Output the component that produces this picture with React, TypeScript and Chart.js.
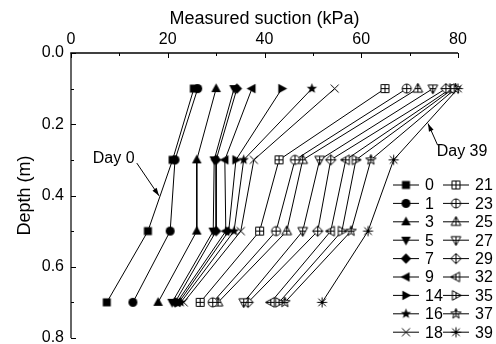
import React, { useEffect, useRef } from 'react';
import { Chart, registerables } from 'chart.js';

Chart.register(...registerables);

// ---- data ----
const DEPTHS = [0.1, 0.3, 0.5, 0.7];
const DAYS = [0, 1, 3, 5, 7, 9, 14, 16, 18, 21, 23, 25, 27, 29, 32, 35, 37, 39];
const day0 = [25.4, 21.0, 15.9, 7.4];
const day1 = [26.2, 21.5, 20.5, 12.8];
const day3 = [30.0, 26.0, 26.0, 18.0];
const day5 = [33.7, 29.6, 29.4, 20.9];
const day7 = [34.3, 30.0, 30.0, 21.5];
const day9 = [37.4, 31.8, 32.0, 21.9];
const day14 = [43.6, 34.1, 32.6, 22.3];
const day16 = [49.8, 35.7, 33.7, 22.7];
const day18 = [54.5, 37.8, 35.1, 23.3];
const day21 = [64.9, 43.0, 39.0, 26.7];
const day23 = [69.4, 46.3, 42.4, 29.3];
const day25 = [71.7, 47.9, 44.6, 30.4];
const day27 = [74.8, 51.4, 47.9, 35.7];
const day29 = [77.5, 53.7, 51.0, 36.6];
const day32 = [78.5, 56.8, 53.7, 41.3];
const day35 = [79.0, 58.9, 56.0, 43.0];
const day37 = [79.5, 62.0, 57.9, 44.2];
const day39 = [80.0, 66.7, 61.4, 51.9];
const SUCTIONS = [day0, day1, day3, day5, day7, day9, day14, day16, day18, day21, day23, day25, day27, day29, day32, day35, day37, day39];

const X_MINOR = [10, 30, 50, 70];
const Y_MINOR = [0.1, 0.3, 0.5, 0.7];

// annotation anchors in data units
const DAY0_TEXT = { x: 4.5, y: 0.296, text: 'Day 0' };
const DAY0_ARROW = { x1: 13.6, y1: 0.309, x2: 18.2, y2: 0.401 };
const DAY39_TEXT = { x: 75.6, y: 0.276, text: 'Day 39' };
const DAY39_ARROW = { x1: 75.8, y1: 0.259, x2: 73.8, y2: 0.198 };

const FONT = '"Liberation Sans", Arial, Helvetica, sans-serif';

type Shape = 'square' | 'circle' | 'tri' | 'diamond' | 'star' | 'cross' | 'asterisk';
type MarkerSpec = { shape: Shape; rot?: number; open?: boolean };
const MARKERS: MarkerSpec[] = [
  { shape: 'square' }, { shape: 'circle' }, { shape: 'tri' }, { shape: 'tri', rot: 180 },
  { shape: 'diamond' }, { shape: 'tri', rot: -90 }, { shape: 'tri', rot: 90 }, { shape: 'star' }, { shape: 'cross' },
  { shape: 'square', open: true }, { shape: 'circle', open: true }, { shape: 'tri', open: true },
  { shape: 'tri', rot: 180, open: true }, { shape: 'diamond', open: true }, { shape: 'tri', rot: -90, open: true },
  { shape: 'tri', rot: 90, open: true }, { shape: 'star', open: true }, { shape: 'asterisk' },
];

function shapePath(ctx: CanvasRenderingContext2D, shape: Shape) {
  ctx.beginPath();
  switch (shape) {
    case 'square': ctx.rect(-4, -4, 8, 8); break;
    case 'circle': ctx.arc(0, 0, 4.5, 0, Math.PI * 2); break;
    case 'tri': ctx.moveTo(0, -5.3); ctx.lineTo(4.8, 3.6); ctx.lineTo(-4.8, 3.6); ctx.closePath(); break;
    case 'diamond': ctx.moveTo(0, -5.2); ctx.lineTo(5.2, 0); ctx.lineTo(0, 5.2); ctx.lineTo(-5.2, 0); ctx.closePath(); break;
    case 'star':
      for (let k = 0; k < 10; k++) {
        const r = k % 2 ? 2.3 : 5.4;
        const a = -Math.PI / 2 + (k * Math.PI) / 5;
        const px = r * Math.cos(a), py = r * Math.sin(a);
        if (k === 0) ctx.moveTo(px, py); else ctx.lineTo(px, py);
      }
      ctx.closePath();
      break;
    default: break;
  }
}

function makeMarker(spec: MarkerSpec): HTMLCanvasElement {
  const S = 15;
  const c = document.createElement('canvas');
  c.width = S; c.height = S;
  const ctx = c.getContext('2d')!;
  ctx.translate(S / 2, S / 2);
  ctx.rotate(((spec.rot || 0) * Math.PI) / 180);
  ctx.strokeStyle = '#000';
  ctx.fillStyle = '#000';
  ctx.lineWidth = 1;
  if (spec.shape === 'cross') {
    ctx.beginPath();
    ctx.moveTo(-4, -4); ctx.lineTo(4, 4);
    ctx.moveTo(4, -4); ctx.lineTo(-4, 4);
    ctx.stroke();
  } else if (spec.shape === 'asterisk') {
    ctx.beginPath();
    ctx.moveTo(-3.8, -3.8); ctx.lineTo(3.8, 3.8);
    ctx.moveTo(3.8, -3.8); ctx.lineTo(-3.8, 3.8);
    ctx.moveTo(0, -5); ctx.lineTo(0, 5);
    ctx.moveTo(-5, 0); ctx.lineTo(5, 0);
    ctx.stroke();
  } else if (spec.open) {
    shapePath(ctx, spec.shape);
    ctx.fillStyle = '#fff';
    ctx.fill();
    ctx.stroke();
    ctx.save();
    shapePath(ctx, spec.shape);
    ctx.clip();
    ctx.beginPath();
    ctx.moveTo(-6, 0); ctx.lineTo(6, 0);
    ctx.moveTo(0, -6); ctx.lineTo(0, 6);
    ctx.stroke();
    ctx.restore();
  } else {
    shapePath(ctx, spec.shape);
    ctx.fill();
  }
  return c;
}

function arrow(ctx: CanvasRenderingContext2D, x1: number, y1: number, x2: number, y2: number) {
  ctx.save();
  ctx.strokeStyle = '#000';
  ctx.fillStyle = '#000';
  ctx.lineWidth = 1;
  ctx.beginPath();
  ctx.moveTo(x1, y1);
  ctx.lineTo(x2, y2);
  ctx.stroke();
  const ang = Math.atan2(y2 - y1, x2 - x1);
  const L = 8, W = 2.5;
  ctx.beginPath();
  ctx.moveTo(x2, y2);
  ctx.lineTo(x2 - L * Math.cos(ang) + W * Math.sin(ang), y2 - L * Math.sin(ang) - W * Math.cos(ang));
  ctx.lineTo(x2 - L * Math.cos(ang) - W * Math.sin(ang), y2 - L * Math.sin(ang) + W * Math.cos(ang));
  ctx.closePath();
  ctx.fill();
  ctx.restore();
}

export default function App() {
  const ref = useRef<HTMLCanvasElement | null>(null);

  useEffect(() => {
    document.body.style.margin = '0';
    const canvas = ref.current;
    if (!canvas) return;
    const markers = MARKERS.map(makeMarker);

    const decor = {
      id: 'decor',
      afterDraw(chart: any) {
        const ctx: CanvasRenderingContext2D = chart.ctx;
        const xs = chart.scales.x;
        const ys = chart.scales.y;
        const { left, top, right, bottom } = chart.chartArea;
        ctx.save();
        // axes lines
        ctx.strokeStyle = '#000';
        ctx.lineWidth = 1.5;
        ctx.beginPath();
        ctx.moveTo(left - 0.75, top);
        ctx.lineTo(right, top);
        ctx.stroke();
        ctx.strokeStyle = '#333';
        ctx.lineWidth = 1.5;
        ctx.beginPath();
        ctx.moveTo(left, top);
        ctx.lineTo(left, bottom);
        ctx.stroke();
        // ticks (inward)
        ctx.strokeStyle = '#000';
        ctx.lineWidth = 1;
        ctx.beginPath();
        xs.ticks.forEach((t: any) => {
          const px = Math.round(xs.getPixelForValue(t.value)) + 0.5;
          ctx.moveTo(px, top); ctx.lineTo(px, top + 5);
        });
        X_MINOR.forEach((v) => {
          const px = Math.round(xs.getPixelForValue(v)) + 0.5;
          ctx.moveTo(px, top); ctx.lineTo(px, top + 3);
        });
        ys.ticks.forEach((t: any) => {
          const py = Math.round(ys.getPixelForValue(t.value)) + 0.5;
          ctx.moveTo(left, py); ctx.lineTo(left + 5, py);
        });
        Y_MINOR.forEach((v) => {
          const py = Math.round(ys.getPixelForValue(v)) + 0.5;
          ctx.moveTo(left, py); ctx.lineTo(left + 3, py);
        });
        ctx.stroke();

        // annotations
        ctx.fillStyle = '#000';
        ctx.font = `16px ${FONT}`;
        ctx.textAlign = 'left';
        ctx.textBaseline = 'middle';
        ctx.fillText(DAY0_TEXT.text, xs.getPixelForValue(DAY0_TEXT.x), ys.getPixelForValue(DAY0_TEXT.y));
        ctx.fillText(DAY39_TEXT.text, xs.getPixelForValue(DAY39_TEXT.x), ys.getPixelForValue(DAY39_TEXT.y));
        arrow(ctx, xs.getPixelForValue(DAY0_ARROW.x1), ys.getPixelForValue(DAY0_ARROW.y1),
          xs.getPixelForValue(DAY0_ARROW.x2), ys.getPixelForValue(DAY0_ARROW.y2));
        arrow(ctx, xs.getPixelForValue(DAY39_ARROW.x1), ys.getPixelForValue(DAY39_ARROW.y1),
          xs.getPixelForValue(DAY39_ARROW.x2), ys.getPixelForValue(DAY39_ARROW.y2));

        // legend, two columns
        const rowsPerCol = 9;
        const legTop = top + 132;
        const rowH = 18.4;
        const colX = [right - 65, right - 15];
        DAYS.forEach((d, i) => {
          const col = Math.floor(i / rowsPerCol);
          const row = i % rowsPerCol;
          const y = legTop + row * rowH;
          const x0 = colX[col];
          ctx.strokeStyle = '#000';
          ctx.lineWidth = 1;
          ctx.beginPath();
          ctx.moveTo(x0, y);
          ctx.lineTo(x0 + 26, y);
          ctx.stroke();
          const m = markers[i];
          ctx.drawImage(m, x0 + 13 - m.width / 2, y - m.height / 2);
          ctx.fillStyle = '#000';
          ctx.font = `16px ${FONT}`;
          ctx.textAlign = 'left';
          ctx.textBaseline = 'middle';
          ctx.fillText(String(d), x0 + 32, y + 1);
        });
        ctx.restore();
      },
    };

    const chart = new Chart(canvas, {
      type: 'scatter',
      data: {
        datasets: DAYS.map((d, i) => ({
          label: String(d),
          data: DEPTHS.map((y, j) => ({ x: SUCTIONS[i][j], y })),
          showLine: true,
          borderColor: '#000',
          backgroundColor: '#000',
          borderWidth: 1,
          pointStyle: markers[i] as any,
          pointRadius: 5,
          pointHoverRadius: 5,
          tension: 0,
          clip: false as any,
        })),
      },
      options: {
        responsive: false,
        animation: false,
        events: [],
        layout: { padding: { left: 0, top: 0, right: 38, bottom: 4 } },
        plugins: { legend: { display: false }, tooltip: { enabled: false } },
        scales: {
          x: {
            type: 'linear',
            position: 'top',
            min: 0,
            max: 80,
            grid: { display: false, drawTicks: false },
            border: { display: false },
            ticks: { stepSize: 20, color: '#000', font: { family: FONT, size: 16 }, padding: 4, autoSkip: false },
            title: { display: true, text: 'Measured suction (kPa)', color: '#000', font: { family: FONT, size: 18 }, padding: { top: 8, bottom: 0 } },
            afterFit: (s: any) => { s.height = 53; s.paddingLeft = 0; s.paddingRight = 0; },
          },
          y: {
            type: 'linear',
            reverse: true,
            min: 0,
            max: 0.8,
            grid: { display: false, drawTicks: false },
            border: { display: false },
            ticks: { stepSize: 0.2, color: '#000', font: { family: FONT, size: 16 }, padding: 7, autoSkip: false, callback: (v: any) => Number(v).toFixed(1) },
            title: { display: true, text: 'Depth (m)', color: '#000', font: { family: FONT, size: 18 }, padding: { top: 14, bottom: 0 } },
            afterFit: (s: any) => { s.width = 71; s.paddingTop = 0; s.paddingBottom = 0; },
          },
        },
      },
      plugins: [decor],
    });
    return () => chart.destroy();
  }, []);

  return (
    <div style={{ width: 496, height: 344, position: 'relative' }}>
      <canvas ref={ref} width={496} height={344} style={{ display: 'block', width: 496, height: 344 }} />
    </div>
  );
}
